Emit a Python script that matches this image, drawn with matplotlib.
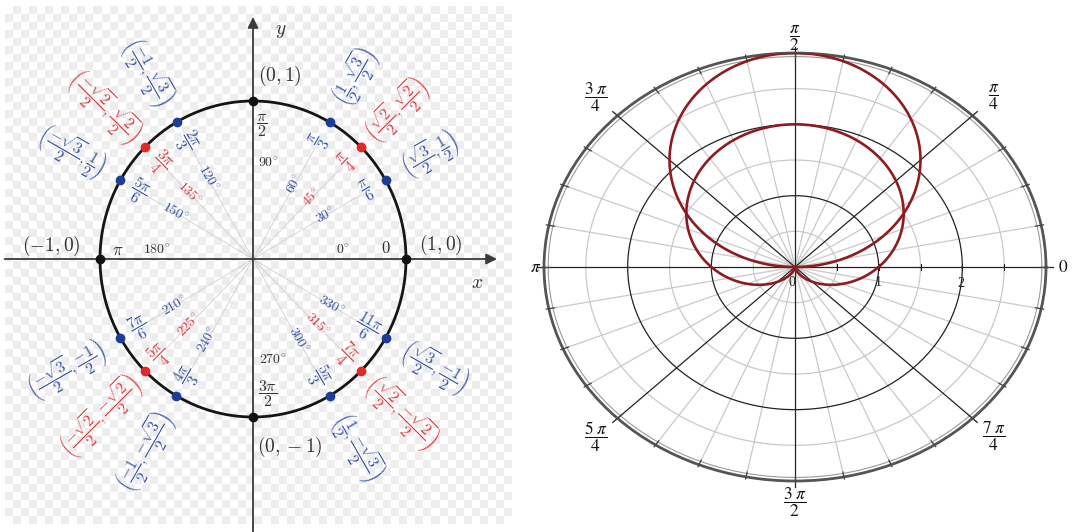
import numpy as np
import matplotlib
matplotlib.use("Agg")
import matplotlib.pyplot as plt
from matplotlib.colors import ListedColormap

plt.rcParams['mathtext.fontset'] = 'cm'

# ---------------- data ----------------
# Unit circle: special angles (degrees) and their labels
axis_angles = [0, 90, 180, 270]
axis_points = [r"$(1,0)$", r"$(0,1)$", r"$(-1,0)$", r"$(0,-1)$"]

special_angles = [30, 45, 60, 120, 135, 150, 210, 225, 240, 300, 315, 330]
radian_labels = [r"\dfrac{\pi}{6}", r"\dfrac{\pi}{4}", r"\dfrac{\pi}{3}",
                 r"\dfrac{2\pi}{3}", r"\dfrac{3\pi}{4}", r"\dfrac{5\pi}{6}",
                 r"\dfrac{7\pi}{6}", r"\dfrac{5\pi}{4}", r"\dfrac{4\pi}{3}",
                 r"\dfrac{5\pi}{3}", r"\dfrac{7\pi}{4}", r"\dfrac{11\pi}{6}"]
coord_labels = [
    r"\left(\dfrac{\sqrt{3}}{2},\dfrac{1}{2}\right)",
    r"\left(\dfrac{\sqrt{2}}{2},\dfrac{\sqrt{2}}{2}\right)",
    r"\left(\dfrac{1}{2},\dfrac{\sqrt{3}}{2}\right)",
    r"\left(\dfrac{-1}{2},\dfrac{\sqrt{3}}{2}\right)",
    r"\left(\dfrac{-\sqrt{2}}{2},\dfrac{\sqrt{2}}{2}\right)",
    r"\left(\dfrac{-\sqrt{3}}{2},\dfrac{1}{2}\right)",
    r"\left(\dfrac{-\sqrt{3}}{2},\dfrac{-1}{2}\right)",
    r"\left(\dfrac{-\sqrt{2}}{2},\dfrac{-\sqrt{2}}{2}\right)",
    r"\left(\dfrac{-1}{2},\dfrac{-\sqrt{3}}{2}\right)",
    r"\left(\dfrac{1}{2},\dfrac{-\sqrt{3}}{2}\right)",
    r"\left(\dfrac{\sqrt{2}}{2},\dfrac{-\sqrt{2}}{2}\right)",
    r"\left(\dfrac{\sqrt{3}}{2},\dfrac{-1}{2}\right)",
]

# Polar plot: circle r = a*sin(t) and cardioid r = b + c*sin(t)
circle_amp = 3.0
cardioid_coef = (1.0, 1.0)
r_max = 3.0
polar_tick_labels = [r"$0$", r"$\dfrac{\pi}{4}$", r"$\dfrac{\pi}{2}$", r"$\dfrac{3\ \pi}{4}$",
                     r"$\pi$", r"$\dfrac{5\ \pi}{4}$", r"$\dfrac{3\ \pi}{2}$", r"$\dfrac{7\ \pi}{4}$"]
radial_tick_labels = ["0", "1", "2"]

# ---------------- figure ----------------
W, H = 1073, 532
fig = plt.figure(figsize=(W / 100, H / 100), dpi=100)
fig.patch.set_facecolor('white')

BLUE = '#3552a8'
RED = '#dd3a40'
DOT_BLUE = '#1e3c96'
DOT_RED = '#e02a2a'
DARK = '#333333'

# ---- left: unit circle ----
left_w = 515
ox, oy = 253, 259      # origin in pixels (from left / top)
rx, ry = 153, 158      # pixels per unit
axL = fig.add_axes([0, 0, left_w / W, 1])
axL.set_xlim(-ox / rx, (left_w - ox) / rx)
axL.set_ylim((oy - H) / ry, oy / ry)
axL.axis('off')

# checkered backdrop
x0, x1 = (5 - ox) / rx, (512 - ox) / rx
y0, y1 = (oy - 524) / ry, (oy - 6) / ry
nx, ny = 63, 65
board = np.indices((ny, nx)).sum(axis=0) % 2
axL.imshow(board, cmap=ListedColormap(['#ffffff', '#ededed']), extent=(x0, x1, y0, y1),
           aspect='auto', interpolation='nearest', zorder=0)

# coordinate axes with arrows
xmin, xmax = axL.get_xlim()
ymin, ymax = axL.get_ylim()
arrow_kw = dict(arrowstyle='-|>', color='#3a3a3a', lw=1.3, mutation_scale=16,
                shrinkA=0, shrinkB=0)
axL.annotate('', xy=((497 - ox) / rx, 0), xytext=(xmin + 0.03, 0), arrowprops=arrow_kw, zorder=2)
axL.annotate('', xy=(0, (oy - 17) / ry), xytext=(0, ymin), arrowprops=arrow_kw, zorder=2)
axL.text((477 - ox) / rx, (oy - 283) / ry, r"$x$", fontsize=14, color=DARK, ha='center', va='center')
axL.text((281 - ox) / rx, (oy - 30) / ry, r"$y$", fontsize=14, color=DARK, ha='center', va='center')

# thin radial guides
for a in special_angles:
    t = np.deg2rad(a)
    axL.plot([0, 0.8 * np.cos(t)], [0, 0.8 * np.sin(t)], color='#cfcfcf', lw=0.6, zorder=1)

# unit circle
tt = np.linspace(0, 2 * np.pi, 500)
axL.plot(np.cos(tt), np.sin(tt), color='#151515', lw=2.0, zorder=3)

# points on the axes
ax_t = np.deg2rad(axis_angles)
axL.scatter(np.cos(ax_t), np.sin(ax_t), s=36, color='#111111', zorder=4)
point_pos = [(441, 245), (280, 76), (51, 246), (290, 447)]
for lab, (px, py) in zip(axis_points, point_pos):
    axL.text((px - ox) / rx, (py - oy) / -ry, lab, fontsize=14, color=DARK, ha='center', va='center')

# axis angle labels
axL.text((343 - ox) / rx, (oy - 250) / ry, r"$0^{\circ}$", fontsize=10, color=DARK, ha='center', va='center')
axL.text((386 - ox) / rx, (oy - 248) / ry, r"$0$", fontsize=12, color=DARK, ha='center', va='center')
axL.text((268 - ox) / rx, (oy - 163) / ry, r"$90^{\circ}$", fontsize=10, color=DARK, ha='center', va='center')
axL.text((262 - ox) / rx, (oy - 126) / ry, r"$\dfrac{\pi}{2}$", fontsize=11.5, color=DARK, ha='center', va='center')
axL.text((118 - ox) / rx, (oy - 250) / ry, r"$\pi$", fontsize=12, color=DARK, ha='center', va='center')
axL.text((157 - ox) / rx, (oy - 250) / ry, r"$180^{\circ}$", fontsize=10, color=DARK, ha='center', va='center')
axL.text((273 - ox) / rx, (oy - 360) / ry, r"$270^{\circ}$", fontsize=10, color=DARK, ha='center', va='center')
axL.text((268 - ox) / rx, (oy - 394) / ry, r"$\dfrac{3\pi}{2}$", fontsize=11.5, color=DARK, ha='center', va='center')

# special angle points and their labels
for a, rl, cl in zip(special_angles, radian_labels, coord_labels):
    t = np.deg2rad(a)
    c, s = np.cos(t), np.sin(t)
    is_red = (a % 90 == 45)
    col = RED if is_red else BLUE
    axL.scatter([c], [s], s=36, color=DOT_RED if is_red else DOT_BLUE, zorder=4)
    rot = a if c > 0 else a - 180
    if rot > 180:
        rot -= 360
    r_deg = 0.59 if a >= 100 else 0.55
    axL.text(r_deg * c, r_deg * s, r"$%d^{\circ}$" % a, fontsize=10, color=col,
             rotation=rot, rotation_mode='anchor', ha='center', va='center')
    axL.text(0.86 * c, 0.86 * s, "$" + rl + "$", fontsize=11, color=col,
             rotation=rot, rotation_mode='anchor', ha='center', va='center')
    r_c = 1.33 + 0.04 * cl.count('-')
    axL.text(r_c * c, r_c * s, "$" + cl + "$", fontsize=11.5, color=col,
             rotation=rot, rotation_mode='anchor', ha='center', va='center')

# ---- right: polar plot ----
axR = fig.add_axes([544 / W, (H - 481) / H, 502 / W, 428 / H], projection='polar')
axR.set_aspect('auto')
axR.set_ylim(0, r_max)
axR.grid(False)
axR.set_xticks([])
axR.set_yticks([])
axR.spines['polar'].set_linewidth(2.0)
axR.spines['polar'].set_color('#555555')

full = np.linspace(0, 2 * np.pi, 600)
for r in [0.5, 1.5, 2.5]:
    axR.plot(full, np.full_like(full, r), color='#c9c9c9', lw=0.9, zorder=1)
for r in [1.0, 2.0]:
    axR.plot(full, np.full_like(full, r), color='#222222', lw=0.9, zorder=2)
axR.plot(full, np.full_like(full, 2.95), color='#9a9a9a', lw=0.8, zorder=2)

for k in range(32):
    th = k * np.pi / 16
    if k % 4 == 0:
        axR.plot([th, th], [0, 3.08], color='#222222', lw=0.9, zorder=2, clip_on=False)
    else:
        axR.plot([th, th], [0, r_max], color='#c9c9c9', lw=0.9, zorder=1)
    axR.plot([th, th], [2.93, 3.03], color='#444444', lw=0.9, zorder=3, clip_on=False)

# radial ticks and labels along the zero ray
axR.plot(np.zeros(5), [0.5, 1.0, 1.5, 2.0, 2.5], ls='none', marker='|', ms=4,
         color='#222222', mew=0.8, zorder=3)
for lab, rv, off in zip(radial_tick_labels, [0, 1, 2], [(-2, -11), (0, -11), (-1, -12)]):
    axR.annotate(lab, xy=(0, rv), xytext=off, textcoords='offset points', fontsize=10,
                 family='Liberation Serif', ha='center', va='center', color='#222222')

# angle labels
for k, lab in enumerate(polar_tick_labels):
    th = k * np.pi / 4
    r_lab = 3.2 if k % 2 == 0 else 3.36
    if k == 4:
        r_lab = 3.1
    if k == 6:
        r_lab = 3.3
    axR.text(th, r_lab, lab, fontsize=12.5, math_fontfamily='stix', ha='center', va='center',
             color='#111111', clip_on=False)

# curves
t_half = np.linspace(0, np.pi, 400)
axR.plot(t_half, circle_amp * np.sin(t_half), color='#8e1b1f', lw=1.9, zorder=5)
b, c = cardioid_coef
axR.plot(full, b + c * np.sin(full), color='#8e1b1f', lw=1.9, zorder=5)

fig.savefig('out.png', dpi=100, facecolor='white')
